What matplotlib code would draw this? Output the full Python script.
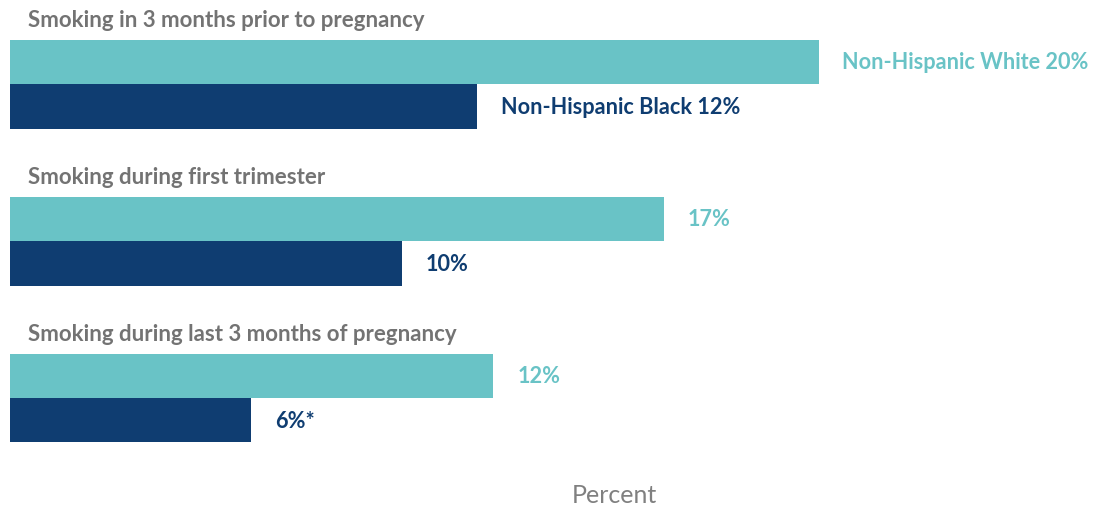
import matplotlib
matplotlib.use("Agg")
import matplotlib.pyplot as plt

plt.rcParams["font.family"] = ["Lato", "DejaVu Sans"]

# Percent of women who smoked, by period and race/ethnicity
periods = [
    "Smoking in 3 months prior to pregnancy",
    "Smoking during first trimester",
    "Smoking during last 3 months of pregnancy",
]
white = [20.4, 16.5, 12.2]
black = [11.8, 9.9, 6.1]
suffix_white = ["", "", ""]
suffix_black = ["", "", "*"]

TEAL = "#69c3c6"
NAVY = "#0f3d71"
GRAY = "#737373"

fig = plt.figure(figsize=(10.95, 5.06), dpi=100)
ax = fig.add_axes([0, 0, 1, 1])

px_per_pct = 39.66
x0 = 9.5
ax.set_xlim(-x0 / px_per_pct, (1095 - x0) / px_per_pct)
ax.set_ylim((506 - 85) / 157, -85 / 157)

h = 44.5 / 157
ys = list(range(len(periods)))
ax.barh([y - h / 2 for y in ys], white, height=h, color=TEAL)
ax.barh([y + h / 2 for y in ys], black, height=h, color=NAVY)

pad = 0.6
for i, (name, w, b) in enumerate(zip(periods, white, black)):
    ax.text(0.47, i - 0.412, name, color=GRAY, fontsize=16, fontweight="bold",
            va="center", ha="left")
    wl = f"{int(w + 0.5)}%{suffix_white[i]}"
    bl = f"{int(b + 0.5)}%{suffix_black[i]}"
    if i == 0:
        wl = "Non-Hispanic White " + wl
        bl = "Non-Hispanic Black " + bl
    ax.text(w + pad, i - h / 2, wl, color=TEAL, fontsize=15.6, fontweight="bold",
            va="center", ha="left")
    ax.text(b + pad, i + h / 2, bl, color=NAVY, fontsize=15.6, fontweight="bold",
            va="center", ha="left")

fig.text(614 / 1095, 1 - 496 / 506, "Percent", color="#808080", fontsize=18,
         ha="center", va="center")

ax.axis("off")
fig.savefig("out.png", dpi=100)
